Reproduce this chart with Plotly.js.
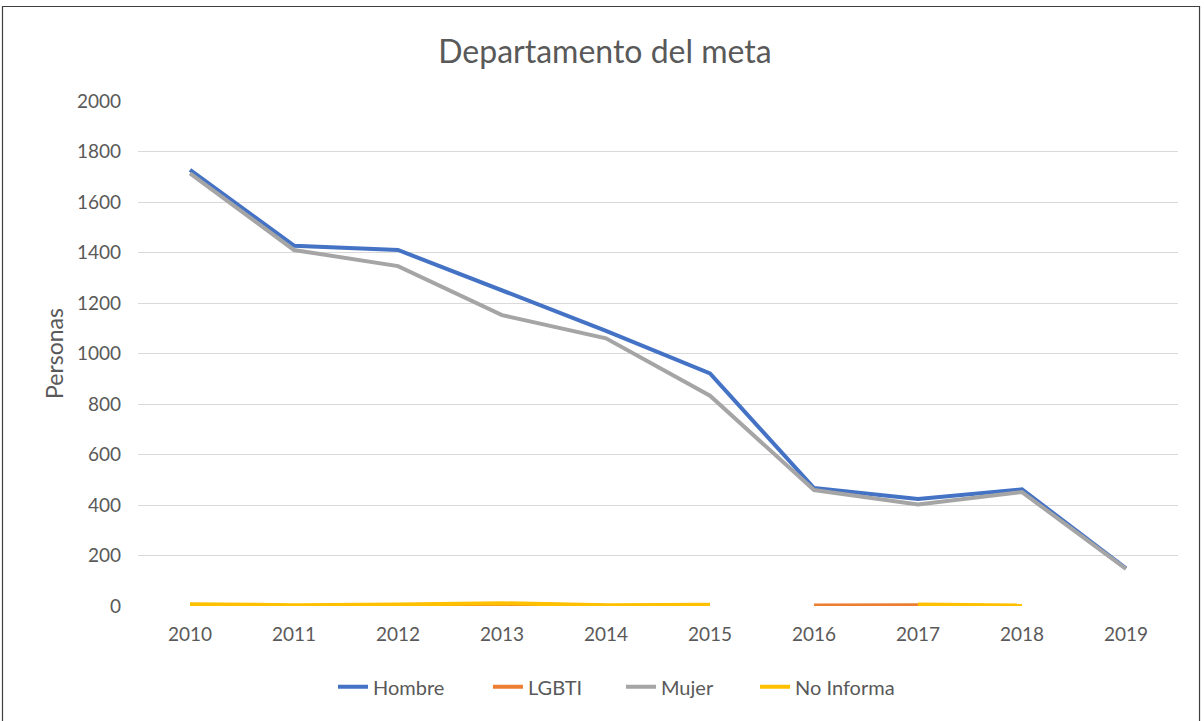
<!DOCTYPE html>
<html>
<head>
<meta charset="utf-8">
<script src="https://cdn.plot.ly/plotly-3.0.1.min.js"></script>
<style>html,body{margin:0;padding:0;background:#fff;}#chart{width:1204px;height:721px;}</style>
</head>
<body>
<div id="chart"></div>
<script>
var years = ["2010","2011","2012","2013","2014","2015","2016","2017","2018","2019"];
var hombre = [1727, 1427, 1410, 1248, 1090, 921, 467, 424, 462, 149];
var lgbti = [null, null, 2, 8, 1, null, 2, 3, null, null];
var mujer = [1713, 1410, 1346, 1152, 1060, 833, 459, 402, 451, 147];
var noInforma = [7, 3, 6, 11, 3, 5, null, 6, 2, null];

var seriesNames = ["Hombre", "LGBTI", "Mujer", "No Informa"];
var seriesData = [hombre, lgbti, mujer, noInforma];
var seriesColors = ["#4472C4", "#ED7D31", "#A5A5A5", "#FFC000"];
var legendIds = ["legend", "legend2", "legend3", "legend4"];
var legendX = [0.1875, 0.3365, 0.4644, 0.5933];

var FONT = "Lato, 'Open Sans', sans-serif";
var traces = seriesNames.map(function (n, i) {
  return {
    type: "scatter",
    mode: "lines",
    name: n,
    x: years,
    y: seriesData[i],
    connectgaps: false,
    legend: legendIds[i],
    line: {color: seriesColors[i], width: 4, shape: "linear"},
    hoverinfo: "x+y+name"
  };
});

var layout = {
  width: 1204,
  height: 721,
  paper_bgcolor: "#ffffff",
  plot_bgcolor: "#ffffff",
  margin: {l: 138, r: 26, t: 101, b: 115},
  title: {
    text: "Departamento del meta",
    font: {family: FONT, size: 32, color: "#595959"},
    x: 0.5025, xanchor: "center",
    y: 0.928, yanchor: "middle"
  },
  font: {family: FONT, color: "#595959"},
  xaxis: {
    type: "category",
    range: [-0.5, 9.5],
    showgrid: false,
    showline: false,
    zeroline: false,
    ticks: "",
    tickfont: {family: FONT, size: 19, color: "#595959"},
    ticklabelstandoff: 15
  },
  yaxis: {
    range: [0, 2000],
    dtick: 200,
    showgrid: true,
    gridcolor: "#D9D9D9",
    gridwidth: 1,
    zeroline: false,
    showline: false,
    ticks: "",
    tickfont: {family: FONT, size: 19, color: "#595959"},
    ticklabelstandoff: 16,
    title: {text: "Personas", font: {family: FONT, size: 23, color: "#595959"}, standoff: 6}
  },
  shapes: [{
    type: "rect", xref: "paper", yref: "paper",
    x0: -0.1303, x1: 1.0207, y0: -0.3, y1: 1.1871,
    line: {color: "#3f3f3f", width: 1.2},
    layer: "below"
  }],
  showlegend: true
};
legendIds.forEach(function (id, i) {
  layout[id] = {
    orientation: "h",
    x: legendX[i], xanchor: "left",
    y: -0.16, yanchor: "middle",
    font: {family: FONT, size: 20, color: "#595959"},
    bgcolor: "rgba(0,0,0,0)"
  };
});

Plotly.newPlot("chart", traces, layout, {displayModeBar: false, staticPlot: true});
</script>
</body>
</html>
